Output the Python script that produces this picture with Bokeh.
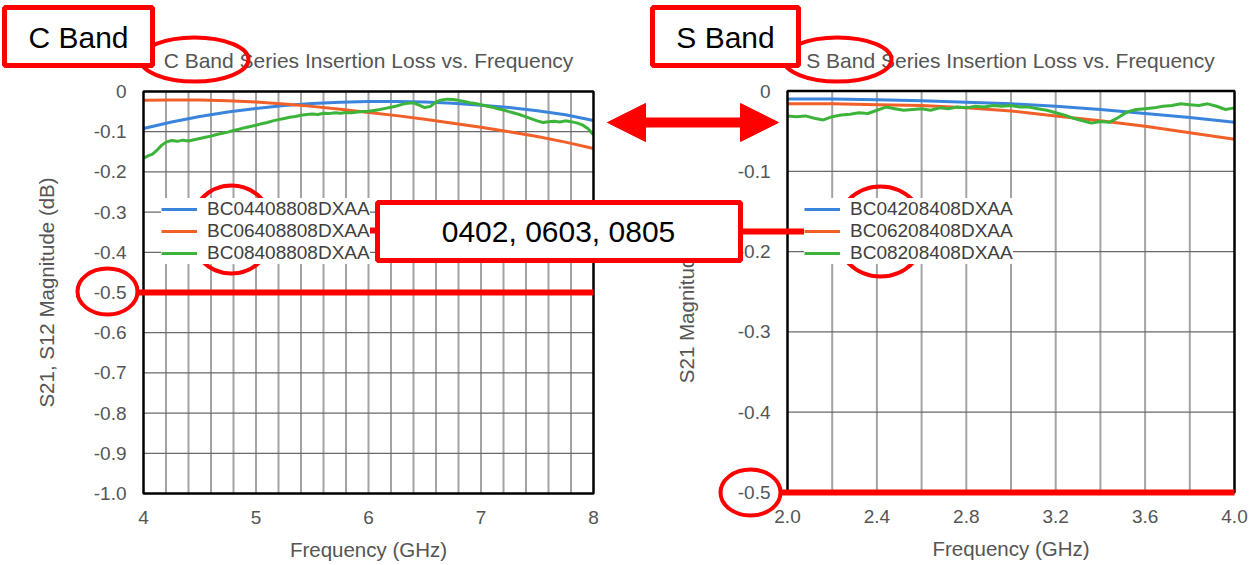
from bokeh.plotting import figure
from bokeh.models import (Range1d, LinearAxis, FixedTicker, NumeralTickFormatter,
                          Legend, LegendItem, Arrow, NormalHead)
from bokeh.embed import file_html
from bokeh.resources import INLINE
from bokeh.core.properties import value

# ---------------- data ----------------
# C band (4-8 GHz)
c_freq = [4.00, 4.25, 4.50, 4.75, 5.00, 5.25, 5.50, 5.75, 6.00, 6.25, 6.50,
          6.75, 7.00, 7.25, 7.50, 7.75, 8.00]
c_0402 = [-0.092, -0.076, -0.062, -0.051, -0.042, -0.035, -0.030, -0.027, -0.025,
          -0.025, -0.026, -0.029, -0.034, -0.040, -0.048, -0.058, -0.072]
c_0603 = [-0.022, -0.021, -0.021, -0.023, -0.026, -0.031, -0.037, -0.044, -0.052,
          -0.060, -0.069, -0.079, -0.089, -0.100, -0.112, -0.126, -0.142]
c_freq_0805 = [4.00, 4.04, 4.08, 4.12, 4.16, 4.20, 4.25, 4.30, 4.35, 4.40, 4.45, 4.50,
               4.55, 4.60, 4.65, 4.70, 4.75, 4.80, 4.85, 4.90, 4.95, 5.00, 5.05, 5.10,
               5.15, 5.20, 5.25, 5.30, 5.35, 5.40, 5.45, 5.50, 5.55, 5.60, 5.65, 5.70,
               5.75, 5.80, 5.85, 5.90, 5.95, 6.00, 6.05, 6.10, 6.15, 6.20, 6.25, 6.30,
               6.35, 6.40, 6.45, 6.50, 6.55, 6.60, 6.65, 6.70, 6.75, 6.80, 6.85, 6.90,
               6.95, 7.00, 7.05, 7.10, 7.15, 7.20, 7.25, 7.30, 7.35, 7.40, 7.45, 7.50,
               7.55, 7.60, 7.65, 7.70, 7.75, 7.80, 7.85, 7.90, 7.95, 8.00]
c_0805 = [-0.166, -0.160, -0.156, -0.146, -0.134, -0.126, -0.122, -0.124, -0.121, -0.123,
          -0.120, -0.117, -0.114, -0.111, -0.107, -0.104, -0.101, -0.097, -0.094, -0.090,
          -0.087, -0.084, -0.080, -0.077, -0.073, -0.070, -0.067, -0.064, -0.062, -0.059,
          -0.057, -0.056, -0.057, -0.054, -0.055, -0.053, -0.054, -0.052, -0.053, -0.051,
          -0.050, -0.049, -0.047, -0.045, -0.042, -0.039, -0.036, -0.032, -0.029, -0.028,
          -0.034, -0.040, -0.037, -0.026, -0.021, -0.019, -0.020, -0.022, -0.025, -0.028,
          -0.030, -0.033, -0.036, -0.039, -0.043, -0.046, -0.050, -0.054, -0.058, -0.063,
          -0.068, -0.073, -0.077, -0.075, -0.074, -0.076, -0.073, -0.075, -0.078, -0.083,
          -0.092, -0.108]

# S band (2-4 GHz)
s_freq = [2.0, 2.2, 2.4, 2.6, 2.8, 3.0, 3.2, 3.4, 3.6, 3.8, 4.0]
s_0402 = [-0.010, -0.010, -0.011, -0.012, -0.014, -0.016, -0.019, -0.023, -0.028,
          -0.033, -0.039]
s_0603 = [-0.016, -0.016, -0.017, -0.018, -0.021, -0.025, -0.031, -0.037, -0.044,
          -0.052, -0.060]
s_freq_0805 = [2.00, 2.04, 2.08, 2.12, 2.16, 2.20, 2.24, 2.28, 2.32, 2.36, 2.40, 2.44,
               2.48, 2.52, 2.56, 2.60, 2.64, 2.68, 2.72, 2.76, 2.80, 2.84, 2.88, 2.92,
               2.96, 3.00, 3.04, 3.08, 3.12, 3.16, 3.20, 3.24, 3.28, 3.32, 3.36, 3.40,
               3.44, 3.48, 3.52, 3.56, 3.60, 3.64, 3.68, 3.72, 3.76, 3.80, 3.84, 3.88,
               3.92, 3.96, 4.00]
s_0805 = [-0.031, -0.032, -0.031, -0.034, -0.036, -0.032, -0.030, -0.029, -0.027, -0.028,
          -0.024, -0.020, -0.022, -0.024, -0.023, -0.022, -0.024, -0.021, -0.022, -0.020,
          -0.021, -0.019, -0.020, -0.018, -0.019, -0.018, -0.020, -0.020, -0.022, -0.024,
          -0.027, -0.030, -0.034, -0.037, -0.040, -0.038, -0.039, -0.033, -0.026, -0.023,
          -0.022, -0.021, -0.019, -0.018, -0.016, -0.017, -0.018, -0.016, -0.019, -0.023,
          -0.021]

c_labels = ["BC04408808DXAA", "BC06408808DXAA", "BC08408808DXAA"]
s_labels = ["BC04208408DXAA", "BC06208408DXAA", "BC08208408DXAA"]

c_xticks = [4, 5, 6, 7, 8]
c_yticks = [0, -0.1, -0.2, -0.3, -0.4, -0.5, -0.6, -0.7, -0.8, -0.9, -1.0]
c_vgrid = [4.2, 4.4, 4.6, 4.8, 5.0, 5.2, 5.4, 5.6, 5.8, 6.0, 6.2, 6.4, 6.6, 6.8,
           7.0, 7.2, 7.4, 7.6, 7.8]
c_hgrid = [-0.1, -0.2, -0.3, -0.4, -0.5, -0.6, -0.7, -0.8, -0.9]
s_xticks = [2.0, 2.4, 2.8, 3.2, 3.6, 4.0]
s_yticks = [0, -0.1, -0.2, -0.3, -0.4, -0.5]
s_vgrid = [2.2, 2.4, 2.6, 2.8, 3.0, 3.2, 3.4, 3.6, 3.8]
s_hgrid = [-0.1, -0.2, -0.3, -0.4]

c_title = "C Band Series Insertion Loss vs. Frequency"
s_title = "S Band Series Insertion Loss vs. Frequency"

# ---------------- layout ----------------
W, H = 1250, 565
LEFT, TOP = 0, 0            # window coords of the canvas corner
RIGHT, BOTTOM = LEFT + W, TOP + H

BLUE, ORANGE, GREEN = "#3a84dc", "#f2602a", "#3cb43a"
RED = "#ff0000"
GRAY_TXT = "#555555"
FONT = "Liberation Sans"


def mapped_range(d0, p0, d1, p1, lo, hi):
    k = (d1 - d0) / (p1 - p0)
    return Range1d(start=d0 + (lo - p0) * k, end=d0 + (hi - p0) * k)


# chart frames in window pixels
C_X = (4, 143, 8, 593)
C_Y = (0, 91, -1.0, 493)
S_X = (2.0, 787, 4.0, 1234)
S_Y = (0, 90.5, -0.5, 492)

p = figure(width=W, height=H, x_range=Range1d(LEFT, RIGHT), y_range=Range1d(BOTTOM, TOP),
           x_axis_type=None, y_axis_type=None, toolbar_location=None,
           output_backend="svg", min_border=0, outline_line_color=None)
p.background_fill_color = "white"
p.extra_x_ranges = {"cx": mapped_range(*C_X, LEFT, RIGHT), "sx": mapped_range(*S_X, LEFT, RIGHT)}
p.extra_y_ranges = {"cy": mapped_range(*C_Y, BOTTOM, TOP), "sy": mapped_range(*S_Y, BOTTOM, TOP)}


def chart(xr, yr, xlim, ylim, vgrid, hgrid, xticks, yticks, xfmt, ylabel,
          series, labels, legend_loc, ylab_standoff):
    kw = dict(x_range_name=xr, y_range_name=yr)
    p.segment(x0=vgrid, y0=ylim[0], x1=vgrid, y1=ylim[1], line_color="#a4a4a4",
              line_width=2, **kw)
    p.segment(x0=xlim[0], y0=hgrid, x1=xlim[1], y1=hgrid, line_color="#6a6a6a",
              line_width=1.3, **kw)
    rends = []
    for (xs, ys, col) in series:
        rends.append(p.line(xs, ys, line_color=col, line_width=3, **kw))
    p.quad(left=xlim[0], right=xlim[1], bottom=ylim[0], top=ylim[1], fill_color=None,
           line_color="black", line_width=2.5, **kw)

    xax = LinearAxis(fixed_location=ylim[0], bounds=xlim, ticker=FixedTicker(ticks=xticks),
                     formatter=NumeralTickFormatter(format=xfmt),
                     axis_label="Frequency (GHz)", **kw)
    yax = LinearAxis(fixed_location=xlim[0], bounds=ylim, ticker=FixedTicker(ticks=yticks),
                     formatter=NumeralTickFormatter(format="0.0"),
                     major_label_overrides={0: "0"}, axis_label=ylabel, **kw)
    for ax in (xax, yax):
        ax.axis_line_color = None
        ax.major_tick_out = 0
        ax.major_tick_in = 0
        ax.minor_tick_out = 0
        ax.minor_tick_in = 0
        ax.major_label_text_font = FONT
        ax.major_label_text_font_size = "19px"
        ax.major_label_text_color = GRAY_TXT
        ax.axis_label_text_font = FONT
        ax.axis_label_text_font_size = "20.5px"
        ax.axis_label_text_font_style = "normal"
        ax.axis_label_text_color = GRAY_TXT
    xax.major_label_standoff = 17
    xax.axis_label_standoff = 11
    yax.major_label_standoff = 17
    yax.axis_label_standoff = ylab_standoff
    p.add_layout(xax, "below")
    p.add_layout(yax, "left")

    leg = Legend(items=[LegendItem(label=l, renderers=[r]) for l, r in zip(labels, rends)],
                 location=legend_loc, background_fill_color="white", background_fill_alpha=1,
                 border_line_color=None, label_text_font=FONT, label_text_font_size="19px",
                 label_text_color="#404040", glyph_width=36, glyph_height=22,
                 label_height=22, spacing=0, padding=10, margin=0, label_standoff=10)
    p.add_layout(leg)


chart("cx", "cy", (4, 8), (-1.0, 0), c_vgrid, c_hgrid, c_xticks, c_yticks, "0",
      "S21, S12 Magnitude (dB)",
      [(c_freq, c_0402, BLUE), (c_freq, c_0603, ORANGE), (c_freq_0805, c_0805, GREEN)],
      c_labels, (161, BOTTOM - 264), 33)
chart("sx", "sy", (2.0, 4.0), (-0.5, 0), s_vgrid, s_hgrid, s_xticks, s_yticks, "0.0",
      "S21 Magnitude (dB)",
      [(s_freq, s_0402, BLUE), (s_freq, s_0603, ORANGE), (s_freq_0805, s_0805, GREEN)],
      s_labels, (804, BOTTOM - 264), 37)

# chart titles
p.text(x=[368, 1010], y=[60, 60], text=[c_title, s_title], text_font=value(FONT),
       text_font_size="21px", text_color=GRAY_TXT, text_align="center",
       text_baseline="middle")

# ---------------- red call-outs (window pixel coordinates) ----------------
ov = dict(level="overlay")
p.segment(x0=[137, 781, 273, 740], y0=[292, 492, 230, 231],
          x1=[593, 1234, 377, 835], y1=[292, 492, 230, 231],
          line_color=RED, line_width=6, **ov)
p.ellipse(x=[194, 837, 107, 750, 231, 880], y=[59, 59, 291, 492, 229, 231],
          width=[108, 108, 60, 60, 84, 90], height=[44, 44, 46, 46, 88, 90],
          fill_color=None, line_color=RED, line_width=4, **ov)
p.quad(left=[4, 652, 377], right=[152, 798, 740], top=[7, 7, 202], bottom=[65, 65, 260],
       fill_color="white", line_color=RED, line_width=5, **ov)
p.text(x=[78, 725, 558], y=[37, 37, 231], text=["C Band", "S Band", "0402, 0603, 0805"],
       text_font=value(FONT), text_font_size="30px", text_color="black",
       text_align="center", text_baseline="middle", **ov)
p.add_layout(Arrow(x_start=607, y_start=122, x_end=778, y_end=122,
                   start=NormalHead(size=38, fill_color=RED, line_color=RED),
                   end=NormalHead(size=38, fill_color=RED, line_color=RED),
                   line_color=RED, line_width=10, level="overlay"))

open("out.html", "w").write(file_html(p, INLINE))
